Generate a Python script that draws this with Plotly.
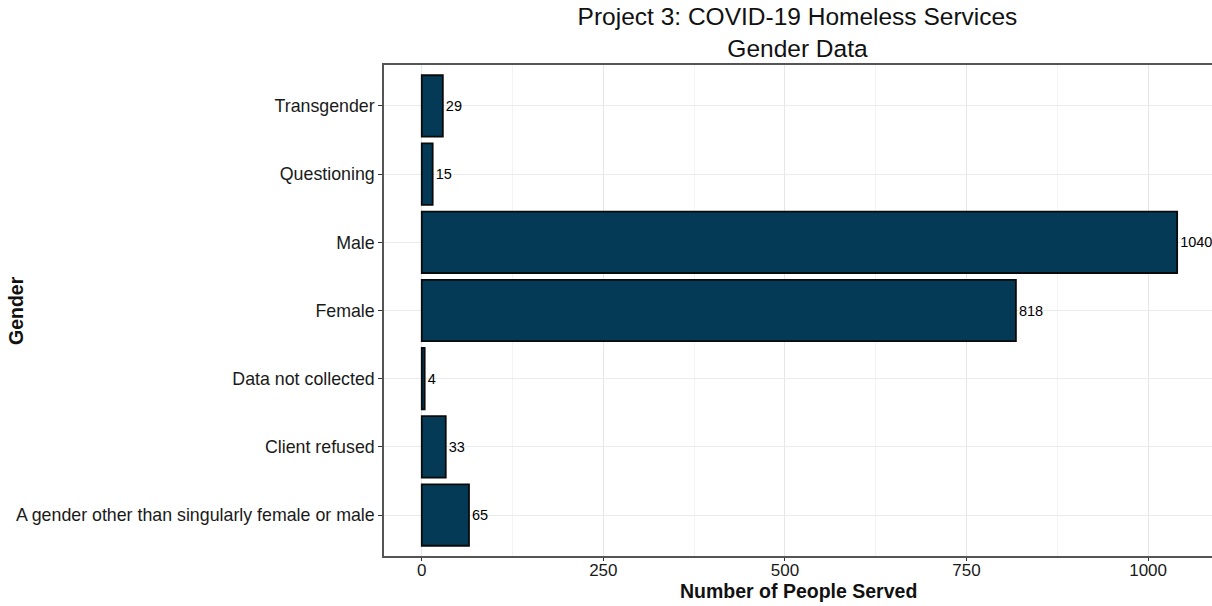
import plotly.graph_objects as go

categories = ["A gender other than singularly female or male", "Client refused",
              "Data not collected", "Female", "Male", "Questioning", "Transgender"]
values = [65, 33, 4, 818, 1040, 15, 29]
x_ticks = [0, 250, 500, 750, 1000]

FONT = "Liberation Sans, Arial, sans-serif"

fig = go.Figure(go.Bar(
    y=categories, x=values, orientation="h", width=0.9,
    marker=dict(color="#053a56", line=dict(color="#0a0a0a", width=1.8)),
    text=[str(v) for v in values], textposition="outside", cliponaxis=False,
    textfont=dict(family=FONT, size=14.5, color="black"),
))

fig.update_layout(
    width=1212, height=606,
    margin=dict(l=384, r=0, t=65, b=50),
    plot_bgcolor="white", paper_bgcolor="white",
    font=dict(family=FONT, size=17, color="#1a1a1a"),
    title=dict(text="Project 3: COVID-19 Homeless Services<br>Gender Data",
               x=0.658, xanchor="center", y=0.958, yanchor="middle",
               font=dict(size=24.5, color="#111")),
    showlegend=False,
    annotations=[
        dict(text="<b>Gender</b>", xref="paper", yref="paper",
             x=-0.445, y=0.5, xanchor="center", yanchor="middle",
             textangle=-90, showarrow=False,
             font=dict(family=FONT, size=19.5, color="#111")),
        dict(text="<b>Number of People Served</b>", xref="paper", yref="paper",
             x=0.5, y=-0.071, xanchor="center", yanchor="middle", showarrow=False,
             font=dict(family=FONT, size=19.5, color="#111")),
    ],
)
fig.update_xaxes(
    range=[-52, 1088], tickvals=x_ticks, ticktext=[str(t) for t in x_ticks],
    showgrid=True, gridcolor="#e6e6e6", gridwidth=1,
    minor=dict(dtick=125, tick0=0, showgrid=True, gridcolor="#f3f3f3", gridwidth=1),
    showline=True, linecolor="#555", linewidth=2, mirror=True,
    ticks="outside", ticklen=3, tickcolor="#333", zeroline=False,
    ticklabelstandoff=-5,
    tickfont=dict(size=17, color="#1a1a1a"),
)
fig.update_yaxes(
    categoryorder="array", categoryarray=categories, range=[-0.6, 6.6],
    showgrid=True, gridcolor="#ebebeb", gridwidth=1,
    showline=True, linecolor="#555", linewidth=1.5,
    ticks="outside", ticklen=4, tickcolor="#333",
    tickfont=dict(size=17.8, color="#1a1a1a"),
)

fig.write_html("out.html", config={"displayModeBar": False},
               post_script="document.body.style.margin='0px';")
